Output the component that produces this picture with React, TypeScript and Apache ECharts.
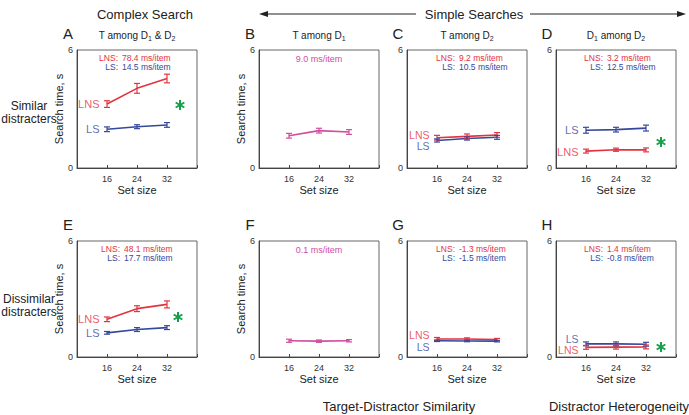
import React, { useEffect, useRef } from "react";
import * as echarts from "echarts";

const setSizes = [16, 24, 32];
const xTickLabels = ["16", "24", "32"];
const yTickLabels = ["0", "6"];

const aLNS = [3.25, 4.05, 4.55];
const aLNSErr = [0.17, 0.25, 0.22];
const aLS = [1.97, 2.1, 2.19];
const aLSErr = [0.12, 0.1, 0.12];
const bT = [1.64, 1.9, 1.83];
const bTErr = [0.12, 0.12, 0.12];
const cLNS = [1.54, 1.61, 1.68];
const cLNSErr = [0.12, 0.12, 0.12];
const cLS = [1.4, 1.5, 1.56];
const cLSErr = [0.08, 0.08, 0.1];
const dLS = [1.92, 1.95, 2.03];
const dLSErr = [0.15, 0.12, 0.15];
const dLNS = [0.86, 0.93, 0.92];
const dLNSErr = [0.1, 0.08, 0.1];
const eLNS = [1.95, 2.5, 2.72];
const eLNSErr = [0.12, 0.15, 0.18];
const eLS = [1.25, 1.42, 1.52];
const eLSErr = [0.07, 0.1, 0.1];
const fT = [0.84, 0.82, 0.84];
const fTErr = [0.08, 0.06, 0.06];
const gLNS = [0.93, 0.93, 0.9];
const gLNSErr = [0.08, 0.06, 0.06];
const gLS = [0.84, 0.83, 0.82];
const gLSErr = [0.04, 0.04, 0.04];
const hLS = [0.68, 0.68, 0.66];
const hLSErr = [0.1, 0.1, 0.1];
const hLNS = [0.5, 0.51, 0.52];
const hLNSErr = [0.1, 0.1, 0.1];

const slopeTexts = [
  ["LNS:", "78.4 ms/item", "LS:", "14.5 ms/item"],
  ["", "9.0 ms/item", "", ""],
  ["LNS:", "9.2 ms/item", "LS:", "10.5 ms/item"],
  ["LNS:", "3.2 ms/item", "LS:", "12.5 ms/item"],
  ["LNS:", "48.1 ms/item", "LS:", "17.7 ms/item"],
  ["", "0.1 ms/item", "", ""],
  ["LNS:", "-1.3 ms/item", "LS:", "-1.5 ms/item"],
  ["LNS:", "1.4 ms/item", "LS:", "-0.8 ms/item"],
];
const panelLetters = ["A", "B", "C", "D", "E", "F", "G", "H"];
const panelTitles = [
  "T among D{s|1} & D{s|2}",
  "T among D{s|1}",
  "T among D{s|2}",
  "D{s|1} among D{s|2}",
];

const RED = "#e5323e";
const BLUE = "#34489c";
const PINK = "#d24c9f";
const GREEN = "#16a04c";
const FONT = "Liberation Sans, Arial, sans-serif";

export default function App() {
  const ref = useRef<HTMLDivElement>(null);
  useEffect(() => {
    document.body.style.margin = "0";
    const chart = echarts.init(ref.current!, null, { renderer: "svg" });

    const lefts = [77, 259, 407, 556];
    const W = 120;
    const rows = [
      { top: 50, h: 118 },
      { top: 241, h: 116 },
    ];
    const grids: any[] = [];
    const xAxes: any[] = [];
    const yAxes: any[] = [];
    for (let r = 0; r < 2; r++) {
      for (let c = 0; c < 4; c++) {
        grids.push({
          left: lefts[c],
          top: rows[r].top,
          width: W,
          height: rows[r].h,
          show: true,
          borderColor: "#666",
          borderWidth: 1,
          backgroundColor: "transparent",
        });
        const idx = r * 4 + c;
        xAxes.push({
          gridIndex: idx,
          type: "value",
          min: 8,
          max: 40,
          interval: 8,
          axisLine: { lineStyle: { color: "#444" } },
          axisTick: { inside: true, length: 3, lineStyle: { color: "#444" } },
          splitLine: { show: false },
          axisLabel: {
            fontSize: 9,
            color: "#333",
            fontFamily: FONT,
            margin: 6,
            formatter: (v: number) => {
              const i = setSizes.indexOf(v);
              return i >= 0 ? xTickLabels[i] : "";
            },
          },
          name: "Set size",
          nameLocation: "middle",
          nameGap: 16,
          nameTextStyle: { fontSize: 11, color: "#222", fontFamily: FONT },
        });
        yAxes.push({
          gridIndex: idx,
          type: "value",
          min: 0,
          max: 6,
          interval: 6,
          axisLine: { lineStyle: { color: "#444" } },
          axisTick: { show: false },
          splitLine: { show: false },
          axisLabel: {
            fontSize: 9,
            color: "#333",
            fontFamily: FONT,
            margin: 4,
            formatter: (v: number) => (v === 0 ? yTickLabels[0] : v === 6 ? yTickLabels[1] : ""),
          },
          name: c < 2 ? "Search time, s" : "",
          nameLocation: "middle",
          nameGap: 4,
          nameRotate: 90,
          nameTextStyle: { fontSize: 11, color: "#222", fontFamily: FONT },
        });
      }
    }

    const series: any[] = [];
    const addLine = (
      idx: number,
      vals: number[],
      errs: number[],
      color: string,
      label: string,
      labelDy: number,
      labelSize: number
    ) => {
      series.push({
        type: "line",
        xAxisIndex: idx,
        yAxisIndex: idx,
        symbol: "none",
        lineStyle: { color, width: 1.6 },
        z: 3,
        data: setSizes.map((x, i) => [x, vals[i]]),
      });
      if (label) {
        series.push({
          type: "scatter",
          xAxisIndex: idx,
          yAxisIndex: idx,
          symbolSize: 1,
          itemStyle: { color: "transparent" },
          z: 5,
          data: [[setSizes[0], vals[0]]],
          label: {
            show: true,
            position: "left",
            distance: 7,
            offset: [0, labelDy],
            formatter: label,
            color,
            fontSize: labelSize,
            lineHeight: labelSize - 1,
            fontFamily: FONT,
          },
        });
      }
      series.push({
        type: "custom",
        xAxisIndex: idx,
        yAxisIndex: idx,
        z: 4,
        data: setSizes.map((x, i) => [x, vals[i], errs[i]]),
        renderItem: (params: any, api: any) => {
          const x = api.value(0);
          const y = api.value(1);
          const e = api.value(2);
          const t = api.coord([x, y + e]);
          const b = api.coord([x, y - e]);
          const st = { stroke: color, lineWidth: 1.2 };
          return {
            type: "group",
            children: [
              { type: "line", shape: { x1: t[0], y1: t[1], x2: b[0], y2: b[1] }, style: st },
              { type: "line", shape: { x1: t[0] - 3, y1: t[1], x2: t[0] + 3, y2: t[1] }, style: st },
              { type: "line", shape: { x1: b[0] - 3, y1: b[1], x2: b[0] + 3, y2: b[1] }, style: st },
            ],
          };
        },
      });
    };

    addLine(0, aLNS, aLNSErr, RED, "LNS", 0, 11);
    addLine(0, aLS, aLSErr, BLUE, "LS", 0, 11);
    addLine(1, bT, bTErr, PINK, "", 0, 11);
    addLine(2, cLNS, cLNSErr, RED, "LNS", -3, 10.5);
    addLine(2, cLS, cLSErr, BLUE, "LS", 6, 10.5);
    addLine(3, dLS, dLSErr, BLUE, "LS", 0, 11);
    addLine(3, dLNS, dLNSErr, RED, "LNS", 1, 11);
    addLine(4, eLNS, eLNSErr, RED, "LNS", 0, 11);
    addLine(4, eLS, eLSErr, BLUE, "LS", 0, 11);
    addLine(5, fT, fTErr, PINK, "", 0, 11);
    addLine(6, gLNS, gLNSErr, RED, "LNS", -4, 10.5);
    addLine(6, gLS, gLSErr, BLUE, "LS", 6, 10.5);
    addLine(7, hLS, hLSErr, BLUE, "LS", -5, 10.5);
    addLine(7, hLNS, hLNSErr, RED, "LNS", 3, 10.5);

    const graphics: any[] = [];
    const txt = (x: number, y: number, text: string, opts: any = {}) => {
      graphics.push({
        type: "text",
        x,
        y,
        style: {
          text,
          fontSize: 11,
          fontFamily: FONT,
          fill: "#222",
          align: "center",
          verticalAlign: "middle",
          ...opts,
        },
      });
    };

    // header
    txt(145, 14, "Complex Search", { fontSize: 13 });
    txt(474, 14, "Simple Searches", { fontSize: 13 });
    graphics.push({ type: "line", shape: { x1: 266, y1: 14, x2: 416, y2: 14 }, style: { stroke: "#222", lineWidth: 1.2 } });
    graphics.push({ type: "polygon", shape: { points: [[259, 14], [268, 11], [268, 17]] }, style: { fill: "#222" } });
    graphics.push({ type: "line", shape: { x1: 530, y1: 14, x2: 679, y2: 14 }, style: { stroke: "#222", lineWidth: 1.2 } });
    graphics.push({ type: "polygon", shape: { points: [[686, 14], [677, 11], [677, 17]] }, style: { fill: "#222" } });

    // bottom category labels
    txt(399, 406, "Target-Distractor Similarity", { fontSize: 13 });
    txt(619, 406, "Distractor Heterogeneity", { fontSize: 13 });

    // row labels
    txt(29, 106, "Similar", { fontSize: 12 });
    txt(29, 119, "distracters", { fontSize: 12 });
    txt(29, 299, "Dissimilar", { fontSize: 12 });
    txt(29, 312, "distracters", { fontSize: 12 });

    const colonOffsets = [41, 0, 48, 47, 43, 0, 48, 47];
    for (let r = 0; r < 2; r++) {
      for (let c = 0; c < 4; c++) {
        const idx = r * 4 + c;
        const left = lefts[c];
        const top = rows[r].top;
        txt(left - 9, top - 17, panelLetters[idx], { fontSize: 15, align: "center" });
        if (r === 0) {
          graphics.push({
            type: "text",
            x: left + W / 2,
            y: top - 15,
            style: {
              text: panelTitles[c],
              fontSize: 10,
              fontFamily: FONT,
              fill: "#222",
              align: "center",
              verticalAlign: "middle",
              rich: {
                s: { fontSize: 7, fontFamily: FONT, fill: "#222", padding: [7, 0, 0, 0] },
              },
            },
          });
        }
        const st = slopeTexts[idx];
        if (st[0] === "") {
          txt(left + W / 2, top + 9, st[1], { fontSize: 9, fill: PINK });
        } else {
          const cx = left + colonOffsets[idx];
          txt(cx, top + 8, st[0], { fontSize: 8.5, fill: RED, align: "right" });
          txt(cx + 4, top + 8, st[1], { fontSize: 8.5, fill: RED, align: "left" });
          txt(cx, top + 17, st[2], { fontSize: 8.5, fill: BLUE, align: "right" });
          txt(cx + 4, top + 17, st[3], { fontSize: 8.5, fill: BLUE, align: "left" });
        }
      }
    }

    // significance asterisks
    const star = (cx: number, cy: number) => {
      const L = 5;
      const children: any[] = [];
      for (const ang of [90, 30, 150]) {
        const a = (ang * Math.PI) / 180;
        children.push({
          type: "line",
          shape: { x1: cx - L * Math.cos(a), y1: cy - L * Math.sin(a), x2: cx + L * Math.cos(a), y2: cy + L * Math.sin(a) },
          style: { stroke: GREEN, lineWidth: 2 },
        });
      }
      graphics.push({ type: "group", children });
    };
    star(180, 105);
    star(661, 142);
    star(178, 317);
    star(661, 347);

    chart.setOption({
      animation: false,
      backgroundColor: "#fff",
      grid: grids,
      xAxis: xAxes,
      yAxis: yAxes,
      series,
      graphic: graphics,
    });
    return () => chart.dispose();
  }, []);
  return <div ref={ref} style={{ width: 689, height: 415 }} />;
}
